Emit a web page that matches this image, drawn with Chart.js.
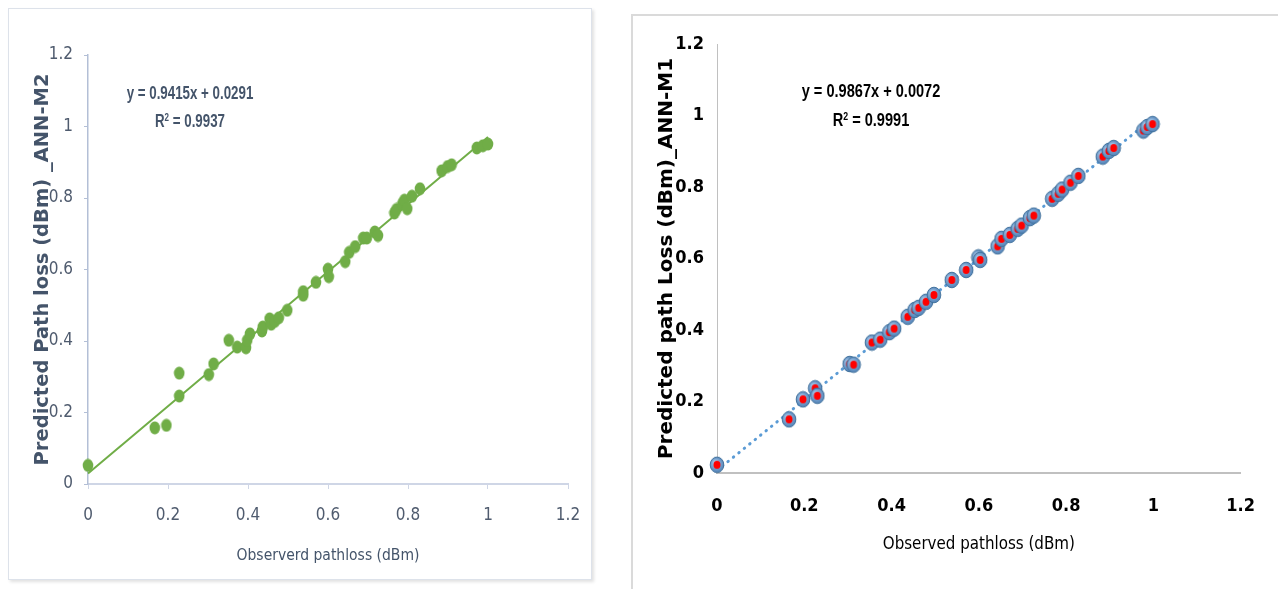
<!DOCTYPE html>
<html>
<head>
<meta charset="utf-8">
<script src="https://cdn.jsdelivr.net/npm/chart.js@4.4.1/dist/chart.umd.min.js"></script>
<style>
    body { margin: 0; background: #fff; width: 1278px; height: 589px; overflow: hidden; position: relative; }
    #panelIzq { position: absolute; left: 8px; top: 8px; width: 582px; height: 570px; border: 1px solid #dde2ea; box-shadow: 2px 2px 3px rgba(0,0,0,0.12); }
    #panelDer { position: absolute; left: 631px; top: 14px; width: 700px; height: 620px; border-left: 2px solid #dadada; border-top: 2px solid #dadada; }
    canvas { position: absolute; top: 0; }
    #graficoM2 { left: 0; }
    #graficoM1 { left: 632px; }
    .ecuacion { position: absolute; font-family: 'Liberation Sans', Arial, sans-serif; font-weight: bold; white-space: nowrap; line-height: 1; }
    .ecuacion sup { font-size: 60%; vertical-align: 0.55em; }
    .m2 { color: #44546a; font-size: 18px; transform: translate(-50%, -50%) scaleX(0.74); }
    .m1 { color: #000; font-size: 18px; transform: translate(-50%, -50%) scaleX(0.81); }
</style>
</head>
<body>
<div id="panelIzq"></div>
<div id="panelDer"></div>
<canvas id="graficoM2" width="620" height="589"></canvas>
<canvas id="graficoM1" width="646" height="589"></canvas>
<div class="ecuacion m2" style="left:190px; top:93px;">y = 0.9415x + 0.0291</div>
<div class="ecuacion m2" style="left:190px; top:121px;">R<sup>2</sup> = 0.9937</div>
<div class="ecuacion m1" style="left:871px; top:91px;">y = 0.9867x + 0.0072</div>
<div class="ecuacion m1" style="left:871px; top:120px;">R<sup>2</sup> = 0.9991</div>
<script>
// valores
const etiquetasEje = ['0', '0.2', '0.4', '0.6', '0.8', '1', '1.2'];

const observadoM2 = [0, 0.167, 0.196, 0.228, 0.228, 0.302, 0.314, 0.352, 0.373, 0.395, 0.398, 0.405,
    0.435, 0.437, 0.454, 0.458, 0.467, 0.477, 0.498, 0.538, 0.538, 0.570, 0.600, 0.602, 0.643,
    0.653, 0.668, 0.688, 0.697, 0.717, 0.725, 0.766, 0.771, 0.786, 0.791, 0.798, 0.810, 0.830,
    0.884, 0.899, 0.909, 0.972, 0.987, 1.0];
const predichoM2 = [0.052, 0.157, 0.164, 0.246, 0.310, 0.306, 0.336, 0.402, 0.383, 0.381, 0.402, 0.420,
    0.428, 0.439, 0.462, 0.447, 0.455, 0.465, 0.486, 0.538, 0.528, 0.564, 0.601, 0.580, 0.622,
    0.648, 0.664, 0.688, 0.688, 0.705, 0.695, 0.758, 0.768, 0.784, 0.794, 0.770, 0.805, 0.826,
    0.876, 0.888, 0.893, 0.940, 0.946, 0.951];

const observadoM1 = [0, 0.165, 0.197, 0.225, 0.230, 0.304, 0.313, 0.355, 0.374, 0.395, 0.406, 0.437,
    0.453, 0.462, 0.479, 0.497, 0.538, 0.571, 0.599, 0.603, 0.643, 0.652, 0.671, 0.689, 0.698,
    0.717, 0.726, 0.768, 0.782, 0.791, 0.810, 0.828, 0.884, 0.898, 0.909, 0.977, 0.986, 0.998];
const predichoM1 = [0.023, 0.150, 0.206, 0.237, 0.216, 0.305, 0.303, 0.365, 0.373, 0.394, 0.404, 0.437,
    0.456, 0.462, 0.479, 0.498, 0.540, 0.568, 0.603, 0.596, 0.634, 0.655, 0.666, 0.683, 0.692,
    0.713, 0.720, 0.767, 0.781, 0.793, 0.812, 0.831, 0.885, 0.901, 0.909, 0.958, 0.968, 0.976];

// lineas de tendencia (de las ecuaciones mostradas)
const tendenciaM2 = { pendiente: 0.9415, corte: 0.0291 };
const tendenciaM1 = { pendiente: 0.9867, corte: 0.0072 };
const rangoTendencia = [0, 1];

const fuenteAngosta = "'DejaVu Sans Condensed', sans-serif";

function puntos(xs, ys) {
    return xs.map((x, i) => ({ x: x, y: ys[i] }));
}

function lineaTendencia(t) {
    return rangoTendencia.map(x => ({ x: x, y: t.pendiente * x + t.corte }));
}

function marcadorVerde() {
    const c = document.createElement('canvas');
    c.width = 12; c.height = 14;
    const g = c.getContext('2d');
    g.fillStyle = '#70ad47';
    g.beginPath();
    g.ellipse(6, 7, 5.3, 6.4, 0, 0, Math.PI * 2);
    g.fill();
    return c;
}

function marcadorRojo() {
    const c = document.createElement('canvas');
    c.width = 16; c.height = 18;
    const g = c.getContext('2d');
    const grad = g.createRadialGradient(6, 6, 1, 8, 9, 8);
    grad.addColorStop(0, '#a4c6e8');
    grad.addColorStop(1, '#4f80b6');
    g.fillStyle = grad;
    g.beginPath();
    g.ellipse(8, 9, 6.8, 7.8, 0, 0, Math.PI * 2);
    g.fill();
    g.strokeStyle = '#41719c';
    g.lineWidth = 1;
    g.stroke();
    g.fillStyle = '#ff0000';
    g.beginPath();
    g.ellipse(8, 9, 3.5, 4.1, 0, 0, Math.PI * 2);
    g.fill();
    return c;
}

function ejeX(cfg) {
    return {
        type: 'linear', min: 0, max: 1.2,
        afterFit: scale => { scale.height = cfg.alto; },
        ticks: {
            stepSize: 0.2,
            callback: (v, i) => etiquetasEje[i],
            font: { family: fuenteAngosta, size: cfg.tamTick, weight: cfg.pesoTick },
            color: cfg.colorTick,
            padding: cfg.padTick,
            maxRotation: 0
        },
        grid: { drawOnChartArea: false, drawTicks: cfg.marcas, tickLength: 5, color: cfg.colorEje },
        border: { color: cfg.colorEje, width: 2 },
        title: {
            display: true, text: cfg.titulo, color: cfg.colorTitulo,
            font: { family: fuenteAngosta, size: cfg.tamTitulo, weight: 'normal' },
            padding: { top: 0, bottom: cfg.padTitulo }
        }
    };
}

function ejeY(cfg) {
    return {
        type: 'linear', min: 0, max: 1.2,
        afterFit: scale => { scale.width = cfg.ancho; },
        ticks: {
            stepSize: 0.2,
            callback: (v, i) => etiquetasEje[i],
            font: { family: fuenteAngosta, size: cfg.tamTick, weight: cfg.pesoTick },
            color: cfg.colorTick,
            padding: cfg.padTick
        },
        grid: { drawOnChartArea: false, drawTicks: cfg.marcas, tickLength: 4, color: cfg.colorEje },
        border: { color: cfg.colorEje, width: cfg.grosor },
        title: {
            display: true, text: cfg.titulo, color: cfg.colorTitulo,
            font: { family: "'DejaVu Sans', sans-serif", size: cfg.tamTitulo, weight: 'bold' },
            padding: { top: cfg.padTitulo, bottom: 0 }
        }
    };
}

new Chart(document.getElementById('graficoM2'), {
    type: 'scatter',
    data: {
        datasets: [{
            data: puntos(observadoM2, predichoM2),
            pointStyle: marcadorVerde(),
            pointRadius: 6,
            clip: false
        }, {
            data: lineaTendencia(tendenciaM2),
            showLine: true,
            borderColor: '#70ad47',
            borderWidth: 2,
            pointRadius: 0,
            clip: false
        }]
    },
    options: {
        responsive: false,
        animation: false,
        devicePixelRatio: 1,
        layout: { padding: { top: 55, right: 52, bottom: 0, left: 0 } },
        plugins: { legend: { display: false }, tooltip: { enabled: false } },
        scales: {
            x: ejeX({ alto: 105, tamTick: 17, pesoTick: 'normal', colorTick: '#4f5b6e', padTick: 16, marcas: true,
                colorEje: '#cfd6e6', titulo: 'Observerd pathloss (dBm)', colorTitulo: '#44546a', tamTitulo: 15.5, padTitulo: 24 }),
            y: ejeY({ ancho: 88, tamTick: 17, pesoTick: 'normal', colorTick: '#4f5b6e', padTick: 11, marcas: true,
                colorEje: '#b3bfd6', grosor: 1.5, titulo: 'Predicted Path loss (dBm) _ANN-M2', colorTitulo: '#44546a',
                tamTitulo: 19.5, padTitulo: 31 })
        }
    }
});

new Chart(document.getElementById('graficoM1'), {
    type: 'scatter',
    data: {
        datasets: [{
            data: puntos(observadoM1, predichoM1),
            pointStyle: marcadorRojo(),
            pointRadius: 8,
            clip: false
        }, {
            data: lineaTendencia(tendenciaM1),
            showLine: true,
            borderColor: '#5b9bd5',
            borderWidth: 3,
            borderDash: [0.5, 6.5],
            borderCapStyle: 'round',
            pointRadius: 0,
            clip: false
        }]
    },
    options: {
        responsive: false,
        animation: false,
        devicePixelRatio: 1,
        layout: { padding: { top: 44, right: 27, bottom: 0, left: 0 } },
        plugins: { legend: { display: false }, tooltip: { enabled: false } },
        scales: {
            x: ejeX({ alto: 116, tamTick: 18, pesoTick: 'bold', colorTick: '#000', padTick: 23, marcas: false,
                colorEje: '#c0c0c0', titulo: 'Observed pathloss (dBm)', colorTitulo: '#000', tamTitulo: 16.8, padTitulo: 34 }),
            y: ejeY({ ancho: 85, tamTick: 18, pesoTick: 'bold', colorTick: '#000', padTick: 13, marcas: false,
                colorEje: '#c0c0c0', grosor: 1, titulo: 'Predicted path Loss (dBm)_ANN-M1', colorTitulo: '#000',
                tamTitulo: 20, padTitulo: 23 })
        }
    }
});
</script>
</body>
</html>
